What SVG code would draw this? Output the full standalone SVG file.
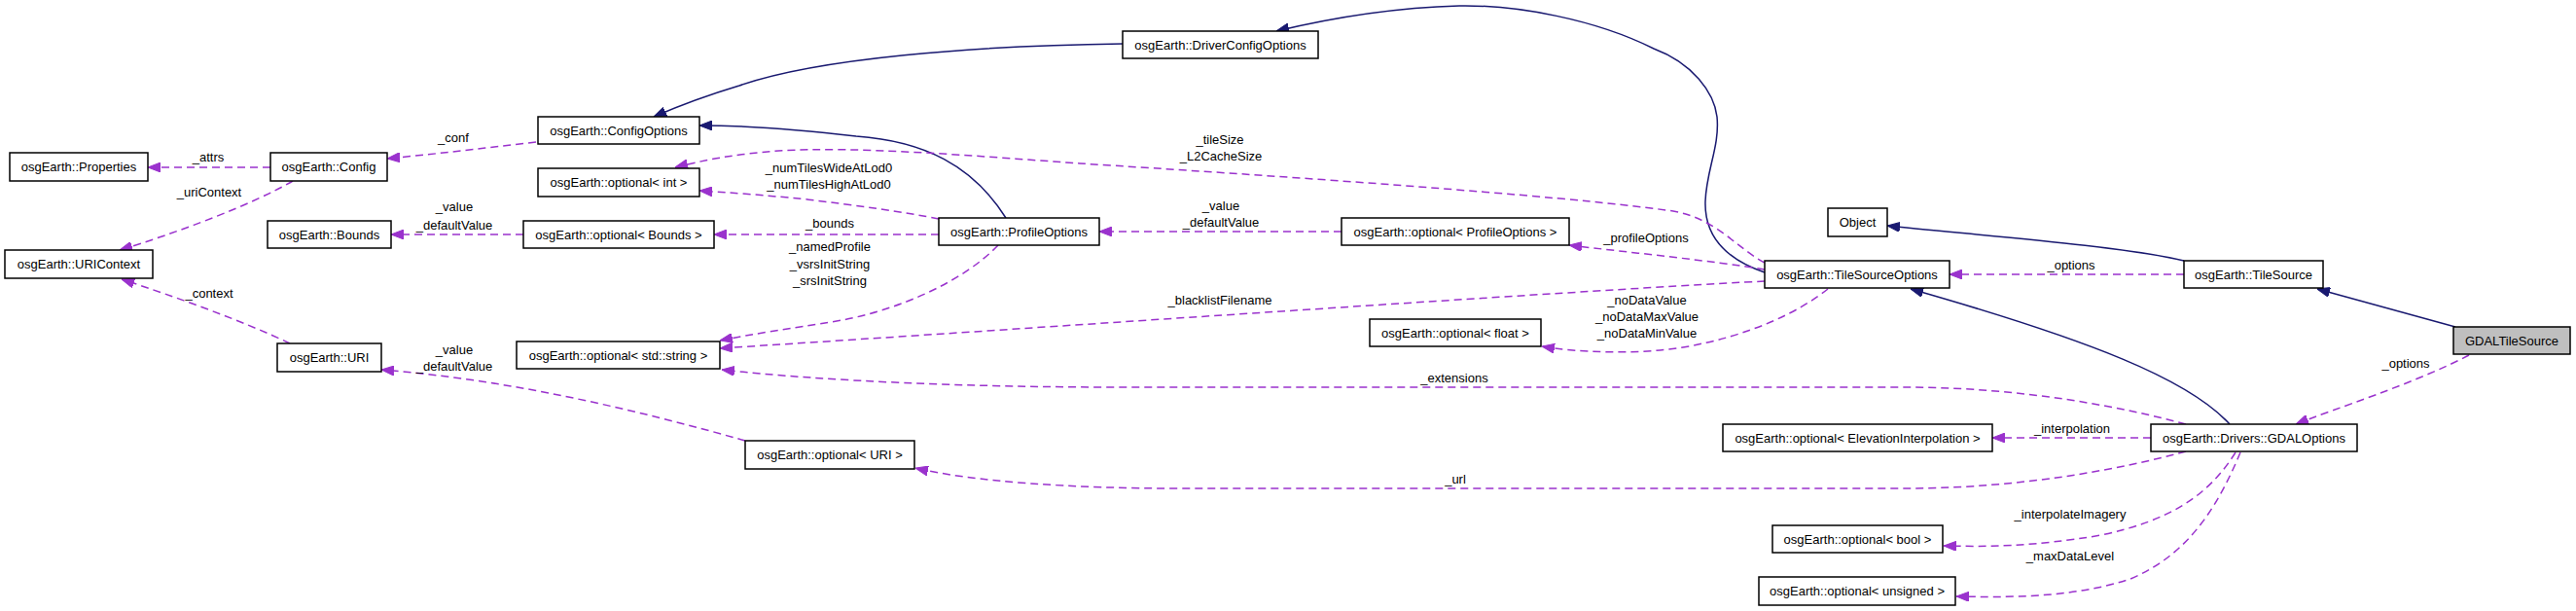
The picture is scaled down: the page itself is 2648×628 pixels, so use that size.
<svg xmlns="http://www.w3.org/2000/svg" width="2648" height="628" viewBox="0 0 2648 628">
<style>
  .node rect { fill: #ffffff; stroke: #000000; stroke-width: 1.5; }
  .node text { font-family: "Liberation Sans", Arial, sans-serif; font-size: 13px; fill: #000000; text-anchor: middle; }
  #n_gdaltilesource rect { fill: #bfbfbf; }
  .use { fill: none; stroke: #9a32cd; stroke-width: 1.5; stroke-dasharray: 8,5; marker-end: url(#ap); }
  .inh { fill: none; stroke: #191970; stroke-width: 1.5; marker-end: url(#an); }
  .lbl { font-family: "Liberation Sans", Arial, sans-serif; font-size: 13px; fill: #000000; text-anchor: middle; }
</style>
<defs>
  <marker id="ap" viewBox="0 0 13 10" refX="13" refY="5" markerWidth="13" markerHeight="10" markerUnits="userSpaceOnUse" orient="auto">
    <path d="M0,0 L13,5 L0,10 z" fill="#9a32cd" stroke="#9a32cd" stroke-width="1"/>
  </marker>
  <marker id="an" viewBox="0 0 13 10" refX="13" refY="5" markerWidth="13" markerHeight="10" markerUnits="userSpaceOnUse" orient="auto">
    <path d="M0,0 L13,5 L0,10 z" fill="#191970" stroke="#191970" stroke-width="1"/>
  </marker>
</defs>
<rect x="0" y="0" width="2648" height="628" fill="#ffffff"/>

<g id="edges">
  <!-- inheritance -->
  <path class="inh" d="M1154,45 C1000,47 840,60 760,88 C720,100 695,110 672,120"/>
  <path class="inh" d="M1034,224 C1000,170 950,145 880,140 C820,133 770,129 719,129"/>
  <path class="inh" d="M1814,280 C1770,265 1752,240 1753,207 C1754,175 1768,150 1765,120 C1762,95 1740,65 1700,50 C1640,20 1560,5 1500,6 C1430,8 1370,18 1312,32"/>
  <path class="inh" d="M2245,268 C2180,252 2010,240 1940,232"/>
  <path class="inh" d="M2292,436 C2250,390 2150,350 1964,297"/>
  <path class="inh" d="M2524,336 L2382,297"/>

  <!-- usage -->
  <path class="use" d="M278,172 L152,172"/>
  <text class="lbl" x="214" y="166">_attrs</text>

  <path class="use" d="M551,146 C500,152 450,158 398,163"/>
  <text class="lbl" x="466" y="146">_conf</text>

  <path class="use" d="M301,186 C260,210 180,240 123,257"/>
  <text class="lbl" x="215" y="202">_uriContext</text>

  <path class="use" d="M298,353 C250,330 180,305 125,287"/>
  <text class="lbl" x="215" y="306">_context</text>

  <path class="use" d="M538,241 L402,241"/>
  <text class="lbl" x="467" y="217">_value</text>
  <text class="lbl" x="467" y="236">_defaultValue</text>

  <path class="use" d="M766,453 C650,420 520,390 392,380"/>
  <text class="lbl" x="467" y="364">_value</text>
  <text class="lbl" x="467" y="381">_defaultValue</text>

  <path class="use" d="M965,241 L734,241"/>
  <text class="lbl" x="853" y="234">_bounds</text>

  <path class="use" d="M965,225 C930,218 880,211 830,205 C780,200 750,198 719,196"/>
  <text class="lbl" x="852" y="177">_numTilesWideAtLod0</text>
  <text class="lbl" x="852" y="194">_numTilesHighAtLod0</text>

  <path class="use" d="M1814,270 C1785,255 1765,225 1720,217 C1600,200 1300,180 1110,168 C1000,160 880,150 800,155 C760,158 730,163 694,172"/>
  <text class="lbl" x="1254" y="148">_tileSize</text>
  <text class="lbl" x="1255" y="165">_L2CacheSize</text>

  <path class="use" d="M1379,238 L1130,238"/>
  <text class="lbl" x="1255" y="216">_value</text>
  <text class="lbl" x="1255" y="233">_defaultValue</text>

  <path class="use" d="M1814,277 C1760,268 1680,260 1613,252"/>
  <text class="lbl" x="1692" y="249">_profileOptions</text>

  <path class="use" d="M1814,289 C1600,300 1100,335 740,358"/>
  <text class="lbl" x="1254" y="313">_blacklistFilename</text>

  <path class="use" d="M1026,252 C990,290 920,320 860,330 C810,338 775,343 740,350"/>
  <text class="lbl" x="853" y="258">_namedProfile</text>
  <text class="lbl" x="853" y="276">_vsrsInitString</text>
  <text class="lbl" x="853" y="293">_srsInitString</text>

  <path class="use" d="M1879,297 C1850,320 1800,345 1730,357 C1680,365 1620,362 1585,356"/>
  <text class="lbl" x="1693" y="313">_noDataValue</text>
  <text class="lbl" x="1693" y="330">_noDataMaxValue</text>
  <text class="lbl" x="1693" y="347">_noDataMinValue</text>

  <path class="use" d="M2245,282 L2004,282"/>
  <text class="lbl" x="2129" y="277">_options</text>

  <path class="use" d="M2538,365 C2480,395 2400,420 2360,436"/>
  <text class="lbl" x="2473" y="378">_options</text>

  <path class="use" d="M2247,436 C2150,410 2050,398 1958,398 L1150,398 C1000,398 850,392 742,380"/>
  <text class="lbl" x="1495" y="393">_extensions</text>

  <path class="use" d="M2211,450 L2048,450"/>
  <text class="lbl" x="2130" y="445">_interpolation</text>

  <path class="use" d="M2247,464 C2150,490 2050,502 1958,502 L1213,502 C1100,502 1000,495 941,481"/>
  <text class="lbl" x="1496" y="497">_url</text>

  <path class="use" d="M2298,465 C2270,510 2230,535 2160,550 C2090,562 2040,562 1998,561"/>
  <text class="lbl" x="2128" y="533">_interpolateImagery</text>

  <path class="use" d="M2303,465 C2280,520 2250,570 2190,595 C2130,615 2060,614 2011,613"/>
  <text class="lbl" x="2128" y="576">_maxDataLevel</text>
</g>

<g id="n_properties" class="node"><rect x="10" y="157" width="142" height="29"/><text x="81" y="176">osgEarth::Properties</text></g>
<g id="n_config" class="node"><rect x="278" y="157" width="120" height="29"/><text x="338" y="176">osgEarth::Config</text></g>
<g id="n_configoptions" class="node"><rect x="553" y="120" width="166" height="28"/><text x="636" y="139">osgEarth::ConfigOptions</text></g>
<g id="n_optint" class="node"><rect x="553" y="173" width="166" height="29"/><text x="636" y="192">osgEarth::optional&lt; int &gt;</text></g>
<g id="n_bounds" class="node"><rect x="275" y="227" width="127" height="28"/><text x="338.5" y="246">osgEarth::Bounds</text></g>
<g id="n_optbounds" class="node"><rect x="538" y="227" width="196" height="28"/><text x="636" y="246">osgEarth::optional&lt; Bounds &gt;</text></g>
<g id="n_uricontext" class="node"><rect x="5" y="257" width="152" height="29"/><text x="81" y="276">osgEarth::URIContext</text></g>
<g id="n_uri" class="node"><rect x="285" y="353" width="107" height="29"/><text x="338.5" y="372">osgEarth::URI</text></g>
<g id="n_optstring" class="node"><rect x="531" y="351" width="209" height="28"/><text x="635.5" y="370">osgEarth::optional&lt; std::string &gt;</text></g>
<g id="n_opturi" class="node"><rect x="766" y="453" width="174" height="29"/><text x="853" y="472">osgEarth::optional&lt; URI &gt;</text></g>
<g id="n_driverconfigoptions" class="node"><rect x="1154" y="32" width="201" height="28"/><text x="1254.5" y="51">osgEarth::DriverConfigOptions</text></g>
<g id="n_profileoptions" class="node"><rect x="965" y="224" width="165" height="28"/><text x="1047.5" y="243">osgEarth::ProfileOptions</text></g>
<g id="n_optprofileoptions" class="node"><rect x="1379" y="224" width="234" height="28"/><text x="1496" y="243">osgEarth::optional&lt; ProfileOptions &gt;</text></g>
<g id="n_optfloat" class="node"><rect x="1408" y="328" width="176" height="28"/><text x="1496" y="347">osgEarth::optional&lt; float &gt;</text></g>
<g id="n_object" class="node"><rect x="1879" y="214" width="61" height="29"/><text x="1909.5" y="233">Object</text></g>
<g id="n_tilesourceoptions" class="node"><rect x="1814" y="268" width="190" height="28"/><text x="1909" y="287">osgEarth::TileSourceOptions</text></g>
<g id="n_tilesource" class="node"><rect x="2245" y="268" width="143" height="28"/><text x="2316.5" y="287">osgEarth::TileSource</text></g>
<g id="n_gdaltilesource" class="node"><rect x="2522" y="336" width="120" height="28"/><text x="2582" y="355">GDALTileSource</text></g>
<g id="n_optelev" class="node"><rect x="1771" y="436" width="277" height="28"/><text x="1909.5" y="455">osgEarth::optional&lt; ElevationInterpolation &gt;</text></g>
<g id="n_gdaloptions" class="node"><rect x="2211" y="436" width="212" height="28"/><text x="2317" y="455">osgEarth::Drivers::GDALOptions</text></g>
<g id="n_optbool" class="node"><rect x="1822" y="540" width="175" height="28"/><text x="1909.5" y="559">osgEarth::optional&lt; bool &gt;</text></g>
<g id="n_optunsigned" class="node"><rect x="1808" y="593" width="202" height="29"/><text x="1909" y="612">osgEarth::optional&lt; unsigned &gt;</text></g>
</svg>
